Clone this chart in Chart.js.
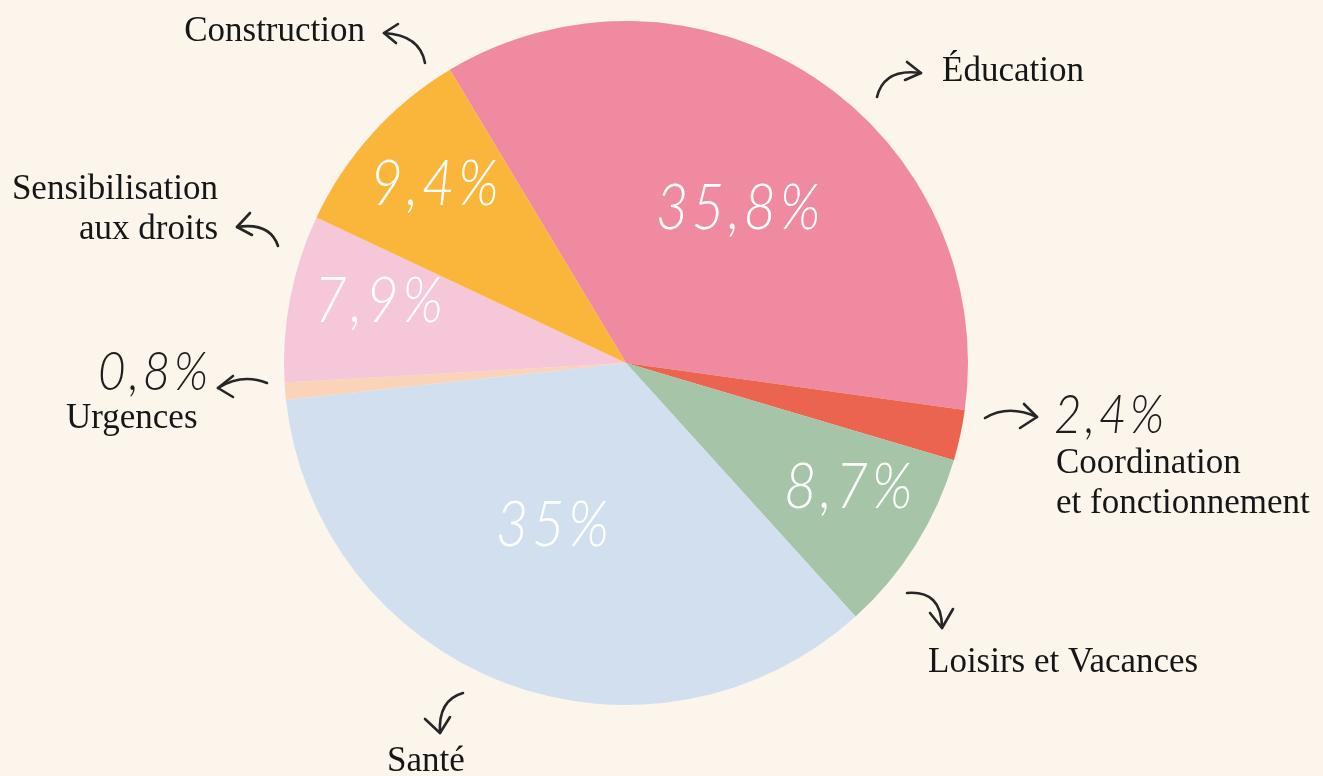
<!DOCTYPE html>
<html>
<head>
<meta charset="utf-8">
<script src="https://cdn.jsdelivr.net/npm/chart.js@4.4.1/dist/chart.umd.min.js"></script>
<style>
  html, body { margin: 0; padding: 0; background: #FCF5EC; }
  #wrap { width: 1323px; height: 776px; }
</style>
</head>
<body>
<div id="wrap"><canvas id="budgetChart" width="1323" height="776"></canvas></div>
<script>
// Data
const categories = ['Éducation', 'Coordination et fonctionnement', 'Loisirs et Vacances', 'Santé', 'Urgences', 'Sensibilisation aux droits', 'Construction'];
const shares = [35.8, 2.4, 8.7, 35, 0.8, 7.9, 9.4];
const sliceColours = ['#EF8AA0', '#EB6450', '#A6C4A7', '#D2DFEE', '#FAD3B8', '#F6C6D9', '#F9B63B'];

// Where the value goes: inside the slice (white) or outside near the name (dark)
// r = fraction of radius, da = angle nudge in degrees
const insideSpots = {
    0: { r: 0.56, da: 3 },
    2: { r: 0.75, da: -3 },
    3: { r: 0.52, da: 3 },
    5: { r: 0.74, da: 3 },
    6: { r: 0.76, da: 1 }
};
const outsideValues = {
    1: { x: 1054, y: 433, align: 'left' },
    4: { x: 98, y: 390, align: 'left' }
};

// Names around the pie + hand drawn arrows
const nameLabels = [
    { lines: ['Éducation'], x: 942, y: 81, align: 'left' },
    { lines: ['Coordination', 'et fonctionnement'], x: 1056, y: 473, align: 'left' },
    { lines: ['Loisirs et Vacances'], x: 928, y: 672, align: 'left' },
    { lines: ['Santé'], x: 426, y: 771, align: 'center' },
    { lines: ['Urgences'], x: 66, y: 428, align: 'left' },
    { lines: ['Sensibilisation', 'aux droits'], x: 218, y: 199, align: 'right' },
    { lines: ['Construction'], x: 365, y: 41, align: 'right' }
];
const arrows = [
    { from: [877, 97], ctrl: [884, 68], to: [921, 73], head: [[907, 62], [905, 80]] },
    { from: [985, 418], ctrl: [1008, 404], to: [1037, 417], head: [[1024, 404], [1020, 428]] },
    { from: [907, 593], ctrl: [942, 590], to: [942, 628], head: [[930, 613], [953, 609]] },
    { from: [463, 693], ctrl: [438, 700], to: [440, 733], head: [[425, 719], [450, 717]] },
    { from: [267, 383], ctrl: [242, 373], to: [218, 388], head: [[233, 376], [233, 397]] },
    { from: [278, 246], ctrl: [270, 222], to: [237, 227], head: [[250, 213], [252, 235]] },
    { from: [425, 63], ctrl: [420, 35], to: [384, 33], head: [[398, 24], [396, 43]] }
];

const fmt = v => String(v).replace('.', ',') + '%';

function handText(ctx, text, x, y, size, colour, align) {
    ctx.save();
    ctx.font = 'italic 300 ' + size + 'px Lato, "Open Sans", sans-serif';
    ctx.fillStyle = colour;
    ctx.textBaseline = 'alphabetic';
    ctx.letterSpacing = '4px';
    const sx = 0.88;
    const w = ctx.measureText(text).width * sx;
    let left = x;
    if (align === 'center') left = x - w / 2;
    if (align === 'right') left = x - w;
    ctx.translate(left, y);
    ctx.scale(sx, 1);
    ctx.textAlign = 'left';
    ctx.fillText(text, 0, 0);
    ctx.restore();
}

const backdrop = {
    id: 'backdrop',
    beforeDraw(chart) {
        const c = chart.ctx;
        c.save();
        c.fillStyle = '#FCF5EC';
        c.fillRect(0, 0, chart.width, chart.height);
        c.restore();
    }
};

const annotations = {
    id: 'annotations',
    afterDraw(chart) {
        const c = chart.ctx;
        const arcs = chart.getDatasetMeta(0).data;
        // values inside slices
        arcs.forEach((arc, i) => {
            const spot = insideSpots[i];
            if (!spot) return;
            const mid = (arc.startAngle + arc.endAngle) / 2 + spot.da * Math.PI / 180;
            const rr = arc.outerRadius * spot.r;
            const x = arc.x + Math.cos(mid) * rr;
            const y = arc.y + Math.sin(mid) * rr;
            handText(c, fmt(shares[i]), x, y + 20, 64, '#FFFFFF', 'center');
        });
        // small values outside
        Object.keys(outsideValues).forEach(k => {
            const o = outsideValues[k];
            handText(c, fmt(shares[k]), o.x, o.y, 54, '#1E1E1E', o.align);
        });
        // category names
        c.save();
        c.font = '35px "Liberation Serif", "Times New Roman", serif';
        c.fillStyle = '#161616';
        c.textBaseline = 'alphabetic';
        nameLabels.forEach(l => {
            c.textAlign = l.align;
            l.lines.forEach((t, j) => c.fillText(t, l.x, l.y + j * 40));
        });
        c.restore();
        // arrows
        c.save();
        c.strokeStyle = '#262626';
        c.lineWidth = 2.6;
        c.lineCap = 'round';
        c.lineJoin = 'round';
        arrows.forEach(a => {
            c.beginPath();
            c.moveTo(a.from[0], a.from[1]);
            c.quadraticCurveTo(a.ctrl[0], a.ctrl[1], a.to[0], a.to[1]);
            c.stroke();
            c.beginPath();
            c.moveTo(a.head[0][0], a.head[0][1]);
            c.lineTo(a.to[0], a.to[1]);
            c.lineTo(a.head[1][0], a.head[1][1]);
            c.stroke();
        });
        c.restore();
    }
};

new Chart(document.getElementById('budgetChart'), {
    type: 'pie',
    data: {
        labels: categories,
        datasets: [{
            data: shares,
            backgroundColor: sliceColours,
            borderWidth: 0
        }]
    },
    options: {
        responsive: false,
        animation: false,
        rotation: -31,
        layout: { padding: { left: 0, right: 71, top: 21, bottom: 71 } },
        plugins: {
            legend: { display: false },
            tooltip: { enabled: false },
            title: { display: false }
        }
    },
    plugins: [backdrop, annotations]
});
</script>
</body>
</html>
